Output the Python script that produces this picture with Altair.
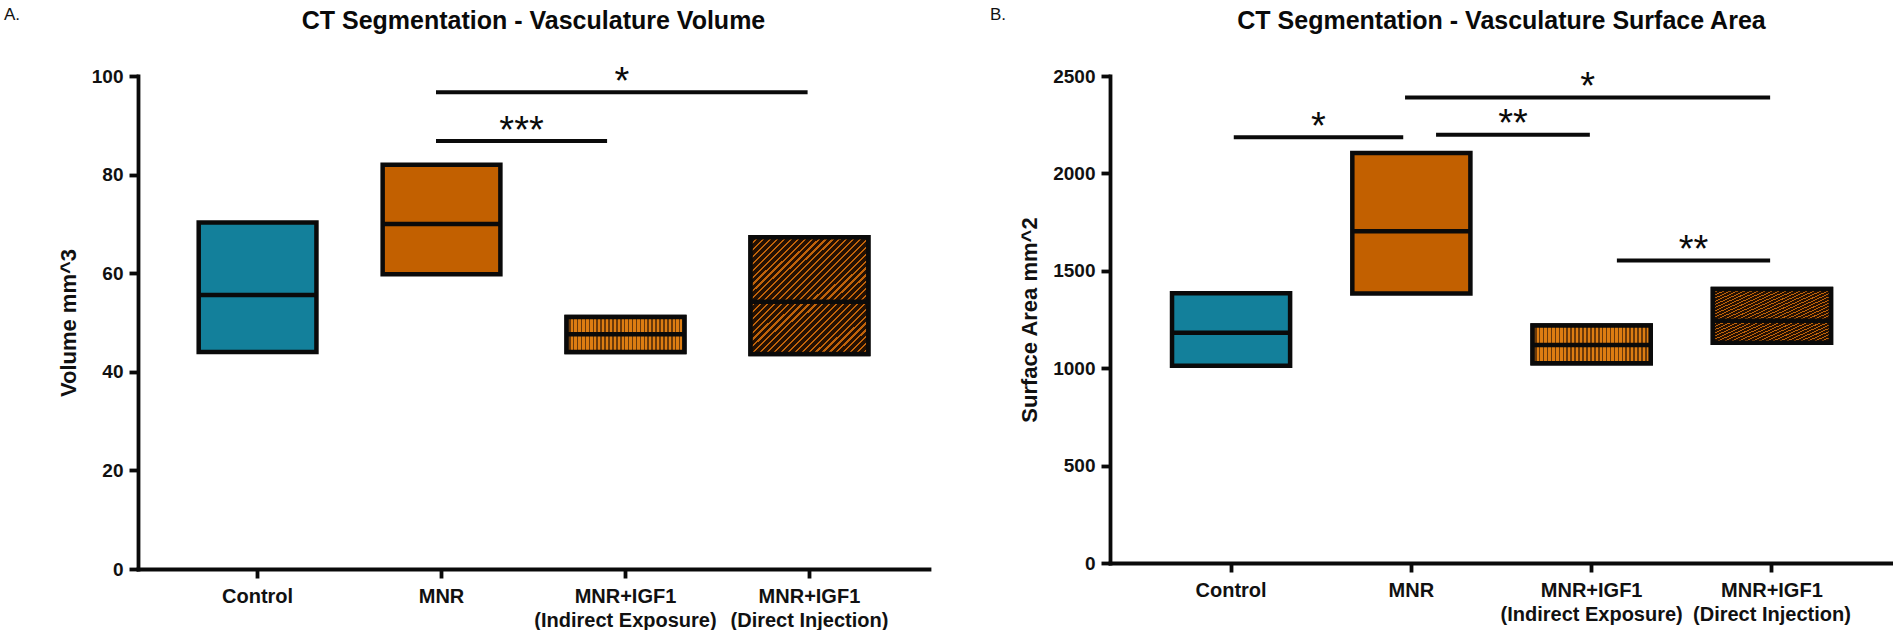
import altair as alt
import pandas as pd

# ---------------- data ----------------
groups = ["Control", "MNR", "MNR+IGF1 (Indirect Exposure)", "MNR+IGF1 (Direct Injection)"]

vol_min = [44.0, 59.8, 44.0, 43.6]
vol_median = [55.6, 70.0, 47.6, 54.2]
vol_max = [70.3, 82.0, 51.1, 67.3]

area_min = [1012, 1383, 1025, 1131]
area_median = [1182, 1703, 1119, 1244]
area_max = [1385, 2105, 1219, 1406]

# significance bars, x in category-index units (0 = Control ... 3 = Direct Injection)
vol_sig_from = [0.97, 0.97]
vol_sig_to = [2.99, 1.90]
vol_sig_y = [96.7, 86.8]
vol_sig_label = ["*", "***"]

area_sig_from = [0.965, 0.015, 1.137, 2.14]
area_sig_to = [2.99, 0.955, 1.99, 2.99]
area_sig_y = [2389, 2185, 2199, 1553]
area_sig_label = ["*", "*", "**", "**"]

vol_ticks = [0, 20, 40, 60, 80, 100]
area_ticks = [0, 500, 1000, 1500, 2000, 2500]

# ---------------- styling ----------------
FONT = "Liberation Sans"
TEAL = "#13809b"
ORANGE = "#c26000"
IND_BASE = "#c8700e"
DIR_BASE = "#4a2506"


def stripes(c1, c2, n, frac, x2=1, y2=0):
    stops = []
    for k in range(n):
        a = k / n
        b = (k + frac) / n
        c = (k + 1) / n
        stops += [
            {"offset": a, "color": c1},
            {"offset": b, "color": c1},
            {"offset": b, "color": c2},
            {"offset": c, "color": c2},
        ]
    return {"gradient": "linear", "x1": 0, "y1": 0, "x2": x2, "y2": y2, "stops": stops}


IND_FILL = stripes("#dc7d12", "#6b3a0a", 30, 0.6)
DIR_FILL = stripes("#c0630a", "#241002", 34, 0.32, x2=1, y2=1)

label_expr = (
    "indexof(datum.label, ' (') > 0 ? "
    "[slice(datum.label, 0, indexof(datum.label, ' (')), "
    "slice(datum.label, indexof(datum.label, ' (') + 1)] : datum.label"
)


def panel(vmin, vmed, vmax, ticks, ytitle, title, sfrom, sto, sy, slab,
          tag, width, height, p_out, p_in, ytitle_x, tag_x):
    n = len(groups)
    half = p_out + (1 - p_in) / 2
    df = pd.DataFrame({"group": groups, "lo": vmin, "med": vmed, "hi": vmax})
    sig = pd.DataFrame({"x0": sfrom, "x1": sto, "yv": sy, "lab": slab})

    yscale = alt.Scale(domain=[ticks[0], ticks[-1]], nice=False, zero=True)
    yaxis = alt.Axis(values=ticks, format="d", title=ytitle, titleX=ytitle_x,
                     titleBaseline="alphabetic", titleAngle=-90)
    xenc = alt.X("group:N", sort=groups,
                 scale=alt.Scale(paddingInner=p_in, paddingOuter=p_out),
                 axis=alt.Axis(title=None, labelExpr=label_expr, labelAngle=0, labelLimit=0))

    base = alt.Chart(df)
    boxes = base.mark_bar(stroke="#0a0a0a", strokeWidth=4.5).encode(
        x=xenc,
        y=alt.Y("lo:Q", scale=yscale, axis=yaxis),
        y2="hi:Q",
        fill=alt.Fill("group:N", scale=alt.Scale(domain=groups, range=[TEAL, ORANGE, IND_BASE, DIR_BASE]),
                      legend=None),
    )
    ind = base.transform_filter(alt.datum.group == groups[2]).mark_bar(
        fill=IND_FILL, stroke="#0a0a0a", strokeWidth=4.5).encode(
        x=xenc, y=alt.Y("lo:Q", scale=yscale, axis=yaxis), y2="hi:Q")
    dirc = base.transform_filter(alt.datum.group == groups[3]).mark_bar(
        fill=DIR_FILL, stroke="#0a0a0a", strokeWidth=4.5).encode(
        x=xenc, y=alt.Y("lo:Q", scale=yscale, axis=yaxis), y2="hi:Q")
    medians = base.mark_bar(fillOpacity=0, stroke="#0a0a0a", strokeWidth=4.5).encode(
        x=xenc, y=alt.Y("med:Q", scale=yscale, axis=yaxis), y2="med:Q")

    inner = alt.layer(boxes, ind, dirc, medians)

    sx = alt.X("x0:Q", scale=alt.Scale(domain=[-half, n - 1 + half], nice=False, zero=False), axis=None)
    rules = alt.Chart(sig).mark_rule(color="#0a0a0a", strokeWidth=4).encode(
        x=sx, x2="x1:Q", y=alt.Y("yv:Q", scale=yscale, axis=yaxis))
    stars = alt.Chart(sig).transform_calculate(xm="(datum.x0 + datum.x1) / 2").mark_text(
        font=FONT, fontSize=38, color="#0a0a0a", baseline="middle", align="center", dy=-9.5).encode(
        x=alt.X("xm:Q", scale=alt.Scale(domain=[-half, n - 1 + half], nice=False, zero=False), axis=None),
        y=alt.Y("yv:Q", scale=yscale, axis=yaxis),
        text="lab:N")
    ann = alt.layer(rules, stars)

    tag_layer = alt.Chart(pd.DataFrame({"t": [tag]})).mark_text(
        font=FONT, fontSize=17, color="#111", align="left", baseline="middle").encode(
        text="t:N", x=alt.value(tag_x), y=alt.value(-61))

    return alt.layer(inner, ann, tag_layer).resolve_scale(x="independent").properties(
        width=width, height=height,
        title=alt.TitleParams(title, font=FONT, fontSize=25, fontWeight="bold", color="#0a0a0a",
                              anchor="middle", frame="group", offset=0, dy=28),
    )


left = panel(vol_min, vol_median, vol_max, vol_ticks, "Volume mm^3",
             "CT Segmentation - Vasculature Volume",
             vol_sig_from, vol_sig_to, vol_sig_y, vol_sig_label,
             "A.", 791, 493, 0.33, 0.36, -63, -134)
right = panel(area_min, area_median, area_max, area_ticks, "Surface Area mm^2",
              "CT Segmentation - Vasculature Surface Area",
              area_sig_from, area_sig_to, area_sig_y, area_sig_label,
              "B.", 783, 487, 0.344, 0.345, -74, -120)

chart = alt.hconcat(left, right, spacing=61).properties(
    padding={"left": 4, "top": 6, "right": 0, "bottom": 0},
    background="white",
).configure_view(stroke=None).configure_axis(
    domainColor="#0a0a0a", domainWidth=3.8, domainCap="square",
    tickColor="#0a0a0a", tickWidth=3.8, tickSize=9,
    labelFont=FONT, labelFontWeight="bold", labelColor="#111",
    titleFont=FONT, titleFontWeight="bold", titleColor="#111", titleFontSize=22,
    grid=False,
).configure_axisY(
    labelFontSize=19, labelPadding=6,
).configure_axisX(
    labelFontSize=20, labelPadding=8, labelLineHeight=24, labelBaseline="top",
)

chart.save("out.html", embed_options={"renderer": "svg", "actions": False})
